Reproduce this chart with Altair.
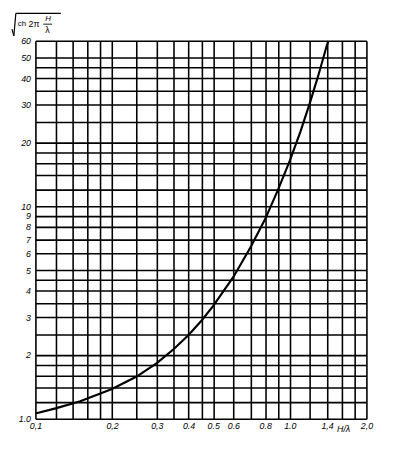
import altair as alt
import pandas as pd

# curve
x_curve = [0.1, 0.12, 0.15, 0.2, 0.25, 0.3, 0.35, 0.4, 0.45, 0.5, 0.6, 0.7, 0.8, 0.9, 1.0, 1.1, 1.2, 1.3, 1.4, 1.42]
y_curve = [1.06, 1.12, 1.21, 1.38, 1.58, 1.83, 2.13, 2.48, 2.9, 3.4, 4.65, 6.4, 8.7, 12.0, 16.4, 22.4, 30.7, 42.0, 57.5, 60.0]

# grid lines
x_grid = [0.1, 0.12, 0.14, 0.16, 0.18, 0.2, 0.25, 0.3, 0.35, 0.4, 0.45, 0.5, 0.6, 0.7, 0.8, 0.9,
          1.0, 1.2, 1.4, 1.6, 1.8, 2.0]
y_grid = [1, 1.2, 1.4, 1.6, 1.8, 2, 2.5, 3, 3.5, 4, 4.5, 5, 6, 7, 8, 9, 10, 12, 14, 16, 18, 20,
          25, 30, 35, 40, 45, 50, 60]

# tick labels
x_label_vals = [0.1, 0.2, 0.3, 0.4, 0.5, 0.6, 0.8, 1.0, 1.4, 2.0]
x_label_txt = ["0,1", "0,2", "0,3", "0.4", "0.5", "0.6", "0.8", "1.0", "1,4", "2,0"]
y_label_vals = [1, 2, 3, 4, 5, 6, 7, 8, 9, 10, 20, 30, 40, 50, 60]
y_label_txt = ["1.0", "2", "3", "4", "5", "6", "7", "8", "9", "10", "20", "30", "40", "50", "60"]


def label_expr(vals, txts):
    expr = "''"
    for v, t in reversed(list(zip(vals, txts))):
        expr = f"datum.value == {v} ? '{t}' : ({expr})"
    return expr


df = pd.DataFrame({"x": x_curve, "y": y_curve})

W, H = 338, 386
FONT = "Liberation Sans"

xscale = alt.Scale(type="log", domain=[0.1, 2.0], nice=False)
yscale = alt.Scale(type="log", domain=[1, 60], nice=False)

curve = alt.Chart(df).mark_line(color="black", strokeWidth=2.2, clip=True).encode(
    x=alt.X("x:Q", scale=xscale, title=None,
            axis=alt.Axis(values=x_grid, grid=True, gridColor="black", gridWidth=1.6,
                          gridOpacity=1, ticks=False, domain=False,
                          labelExpr=label_expr(x_label_vals, x_label_txt),
                          labelOverlap=False, labelFlush=False, labelFont=FONT,
                          labelFontSize=9, labelFontStyle="italic", labelColor="black",
                          labelPadding=3)),
    y=alt.Y("y:Q", scale=yscale, title=None,
            axis=alt.Axis(values=y_grid, grid=True, gridColor="black", gridWidth=1.6,
                          gridOpacity=1, ticks=False, domain=False,
                          labelExpr=label_expr(y_label_vals, y_label_txt),
                          labelOverlap=False, labelFlush=False, labelFont=FONT,
                          labelFontSize=9, labelFontStyle="italic", labelColor="black",
                          labelPadding=5)),
)

# radical sign title (annotation)
rad_df = pd.DataFrame({"k": [0]})
def seg(x1, y1, x2, y2, w=1.2):
    return alt.Chart(rad_df).mark_rule(color="black", strokeWidth=w).encode(
        x=alt.value(x1), y=alt.value(y1), x2=alt.value(x2), y2=alt.value(y2))

def txt(t, x, y, size=8, style="normal"):
    return alt.Chart(rad_df).mark_text(text=t, font=FONT, fontSize=size, fontStyle=style,
                                       color="black", align="left", baseline="middle").encode(
        x=alt.value(x), y=alt.value(y))

title_parts = [
    seg(-24, -12, -22, -5),
    seg(-22, -5, -20, -28),
    seg(-20, -28, 26, -28),
    txt("ch", -18, -17, 8),
    txt("2π", -7, -17, 9),
    txt("H", 10, -22, 8, "italic"),
    seg(8, -17, 17, -17, 0.9),
    txt("λ", 10, -11, 9),
    txt("H/λ", 308, 396, 9, "italic"),
]

chart = alt.layer(curve, *title_parts).properties(
    width=W, height=H,
    autosize=alt.AutoSizeParams(type="none"),
    padding={"left": 28, "top": 29, "right": 20, "bottom": 11},
).configure_view(stroke="black", strokeWidth=2).configure(background="white")

chart.save("out.html", embed_options={"renderer": "svg", "actions": False})
